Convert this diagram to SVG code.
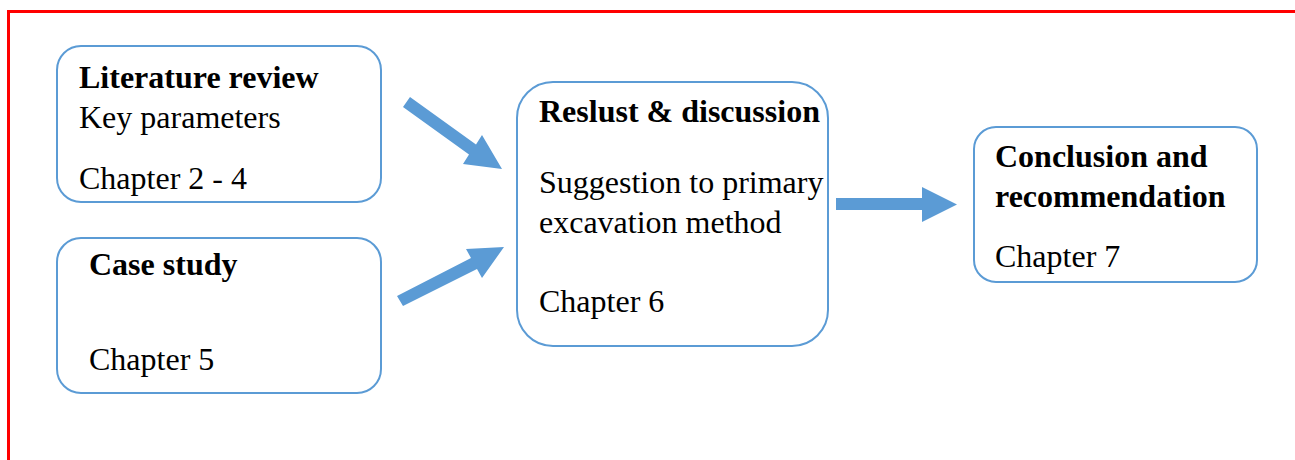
<svg xmlns="http://www.w3.org/2000/svg" width="1295" height="460" viewBox="0 0 1295 460">
<style>
.box{fill:#fff;stroke:#5b9bd5;stroke-width:2}
.t{font-family:"Liberation Serif","Times New Roman",serif;font-size:32px;fill:#000}
.b{font-weight:bold}
.arr{fill:#5b9bd5}
</style>
<rect x="0" y="0" width="1295" height="460" fill="#fff"/>
<path d="M8.5,470 V11.5 H1305" fill="none" stroke="#ff0000" stroke-width="3"/>
<g id="literature">
<rect class="box" x="57" y="46" width="324" height="156" rx="24"/>
<text class="t b" x="79" y="88">Literature review</text>
<text class="t" x="79" y="128">Key parameters</text>
<text class="t" x="79" y="189">Chapter 2 - 4</text>
</g>
<g id="casestudy">
<rect class="box" x="57" y="238" width="324" height="155" rx="24"/>
<text class="t b" x="89" y="275">Case study</text>
<text class="t" x="89" y="370">Chapter 5</text>
</g>
<g id="results">
<rect class="box" x="517" y="82" width="311" height="264" rx="36"/>
<text class="t b" x="539" y="122">Reslust &amp; discussion</text>
<text class="t" x="539" y="193">Suggestion to primary</text>
<text class="t" x="539" y="233">excavation method</text>
<text class="t" x="539" y="312">Chapter 6</text>
</g>
<g id="conclusion">
<rect class="box" x="974" y="127" width="283" height="155" rx="22"/>
<text class="t b" x="995" y="167">Conclusion and</text>
<text class="t b" x="995" y="207">recommendation</text>
<text class="t" x="995" y="267">Chapter 7</text>
</g>
<g id="connectors">
<polygon class="arr" points="410,97 476,144.6 482,135 502,169 463,164 469,154.4 403,107"/>
<polygon class="arr" points="397,296 471,258 466,249 504,247 482,278 477,269 403,306"/>
<polygon class="arr" points="836,198 922,198 922,187 957,204.5 922,222 922,210 836,210"/>
</g>
</svg>
